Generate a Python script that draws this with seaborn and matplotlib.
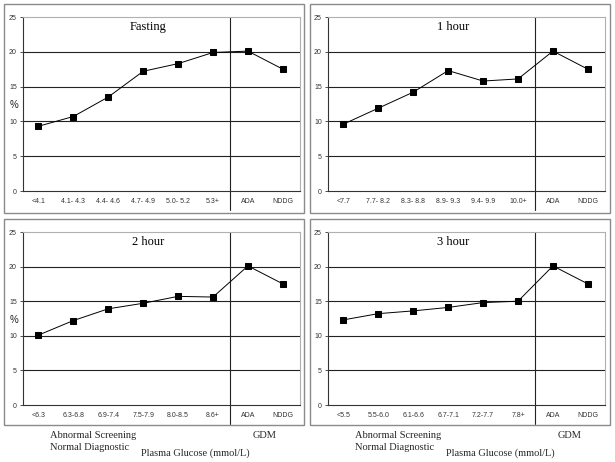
import matplotlib
matplotlib.use("Agg")
import matplotlib.pyplot as plt
from matplotlib.patches import Rectangle
import numpy as np
import pandas as pd
import seaborn as sns

# ---------------- data ----------------
titles = ["Fasting", "1 hour", "2 hour", "3 hour"]
fasting_labels = ["<4.1", "4.1- 4.3", "4.4- 4.6", "4.7- 4.9", "5.0- 5.2", "5.3+", "ADA", "NDDG"]
fasting_values = [9.3, 10.7, 13.5, 17.2, 18.3, 19.9, 20.1, 17.5]
hour1_labels = ["<7.7", "7.7- 8.2", "8.3- 8.8", "8.9- 9.3", "9.4- 9.9", "10.0+", "ADA", "NDDG"]
hour1_values = [9.6, 11.9, 14.2, 17.3, 15.8, 16.1, 20.1, 17.5]
hour2_labels = ["<6.3", "6.3-6.8", "6.9-7.4", "7.5-7.9", "8.0-8.5", "8.6+", "ADA", "NDDG"]
hour2_values = [10.1, 12.2, 13.9, 14.7, 15.7, 15.6, 20.1, 17.5]
hour3_labels = ["<5.5", "5.5-6.0", "6.1-6.6", "6.7-7.1", "7.2-7.7", "7.8+", "ADA", "NDDG"]
hour3_values = [12.3, 13.2, 13.6, 14.1, 14.8, 15.0, 20.1, 17.5]
y_ticks = [0, 5, 10, 15, 20, 25]

panels = [
    (titles[0], fasting_labels, fasting_values),
    (titles[1], hour1_labels, hour1_values),
    (titles[2], hour2_labels, hour2_values),
    (titles[3], hour3_labels, hour3_values),
]

sns.set_theme(style="white")
plt.rcParams["font.family"] = ["Liberation Sans", "DejaVu Sans"]

W, H = 615, 462
fig = plt.figure(figsize=(W / 100, H / 100), dpi=100)
fig.patch.set_facecolor("white")

def fx(px):
    return px / W

def fy(py):
    return 1 - py / H

# axes positions in pixels: (left, top, right, bottom)
ax_px = [(23, 17, 300, 191), (328, 17, 605, 191), (23, 232, 300, 405), (328, 232, 605, 405)]
box_px = [(4, 4, 304, 213), (310, 4, 610, 213), (4, 219, 304, 425), (310, 219, 610, 425)]

for (bl, bt, br, bb) in box_px:
    fig.add_artist(Rectangle((fx(bl), fy(bb)), fx(br - bl), (bb - bt) / H,
                             transform=fig.transFigure, fill=False,
                             edgecolor="#8a8a8a", linewidth=1.0))

grid_col = "#222222"
for i, ((title, labels, values), (l, t, r, b)) in enumerate(zip(panels, ax_px)):
    ax = fig.add_axes([fx(l), fy(b), fx(r - l), (b - t) / H])
    ax.set_facecolor("white")
    df = pd.DataFrame({"pos": np.arange(len(labels)), "pct": values})
    for yv in y_ticks[1:-1]:
        ax.axhline(yv, color=grid_col, linewidth=0.8, zorder=1)
    ax.axvline(5.5, ymin=-0.11, ymax=1.0, color=grid_col, linewidth=0.8,
               clip_on=False, zorder=1)
    sns.lineplot(data=df, x="pos", y="pct", ax=ax, color="black", linewidth=0.7,
                 marker="s", markersize=4.2, markeredgecolor="black",
                 markerfacecolor="black", zorder=3)
    ax.set_xlim(-0.44, 7.49)
    ax.set_ylim(0, 25)
    ax.set_yticks(y_ticks)
    ax.set_yticklabels([str(v) for v in y_ticks])
    ax.set_xticks(df["pos"])
    ax.set_xticklabels(labels)
    ax.tick_params(axis="x", length=0, pad=5, labelsize=5, colors="#333333")
    ax.tick_params(axis="y", left=True, length=2.5, width=0.6, pad=2,
                   labelsize=5, colors="#333333")
    ax.set_xlabel("")
    ax.set_ylabel("")
    for s in ["left", "bottom"]:
        ax.spines[s].set_color("#333333")
        ax.spines[s].set_linewidth(0.8)
    for s in ["top", "right"]:
        ax.spines[s].set_color("#b0b0b0")
        ax.spines[s].set_linewidth(0.8)
    ax.text(0.453, 0.975, title, transform=ax.transAxes, ha="center", va="top",
            fontsize=9, family=["Liberation Serif"], color="black")
    if i % 2 == 0:
        fig.text(fx(13.5), fy(105 if i == 0 else 320), "%", ha="center", va="center",
                 fontsize=7, color="#222222")

# bottom annotations
serif = ["Liberation Serif"]
for off in (0, 305):
    fig.text(fx(50 + off), fy(435), "Abnormal Screening", ha="left", va="center",
             fontsize=7.5, family=serif)
    fig.text(fx(50 + off), fy(447), "Normal Diagnostic", ha="left", va="center",
             fontsize=7.5, family=serif)
    fig.text(fx(265 + off), fy(436), "GDM", ha="center", va="center",
             fontsize=7.5, family=serif)
    fig.text(fx(195 + off), fy(453), "Plasma Glucose (mmol/L)", ha="center", va="center",
             fontsize=7.5, family=serif)

fig.savefig("out.png", dpi=100, facecolor="white")
